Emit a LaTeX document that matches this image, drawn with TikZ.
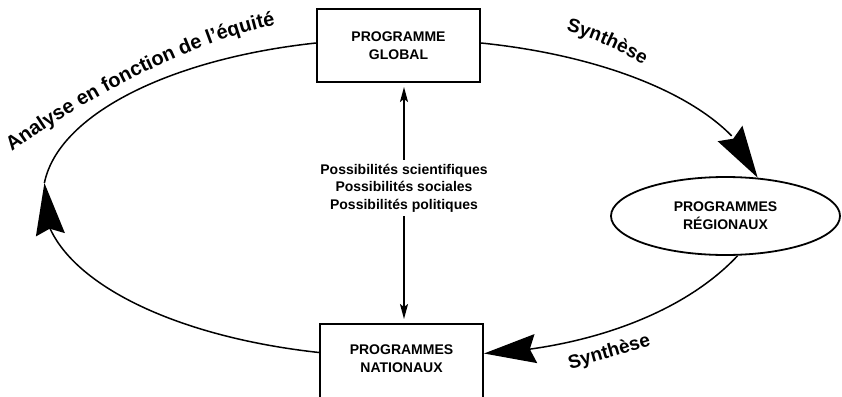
\documentclass[tikz,border=0pt]{standalone}
\usepackage{fontspec}
\setmainfont{Liberation Sans}
\usetikzlibrary{arrows.meta,bending,decorations.text,shapes.geometric}
\newcommand\arclabelfont{\fontsize{19}{19}\selectfont\bfseries}
\newcommand\bigarclabelfont{\fontsize{20}{20}\selectfont\bfseries}
\begin{document}
\begin{tikzpicture}[x=1pt,y=-1pt,
  boxtext/.style={font=\fontsize{14}{18}\selectfont\bfseries, align=center},
  prog/.style={draw, line width=2pt, minimum width=163pt, minimum height=73pt, inner sep=0pt, boxtext},
  region/.style={draw, ellipse, line width=1.8pt, minimum width=229pt, minimum height=78pt, inner sep=0pt, boxtext},
  loopline/.style={line width=1.5pt},
  bigtip/.style={-{Stealth[length=52pt,width=29pt,inset=6pt]}},
  smalltip/.style={line width=1.6pt, -{Stealth[length=15pt,width=8pt,inset=3pt]}, shorten >=4pt},
  posstext/.style={font=\fontsize{14}{17.5}\selectfont\bfseries, align=center, inner xsep=2pt, inner ysep=4pt},
  arclabel/.style={decorate, decoration={text along path, text align=left, text={|\arclabelfont|#1}}},
  bigarclabel/.style={decorate, decoration={text along path, text align=left, text={|\bigarclabelfont|#1}}}
]
\useasboundingbox (0,0) rectangle (842,396);

\node[prog] (glob) at (398.5,45.5) {PROGRAMME\\GLOBAL};
\node[prog, minimum height=80pt, text depth=10pt] (nat) at (401.5,364) {PROGRAMMES\\NATIONAUX};
\node[region] (reg) at (725.5,216) {PROGRAMMES\\RÉGIONAUX};
\node[posstext] (poss) at (404,188) {Possibilités scientifiques\\Possibilités sociales\\Possibilités politiques};

\coordinate (lt) at (44.4,183);

% big loop
\draw[loopline,bigtip] ([yshift=11.5pt]nat.west) .. controls (146.7,333.6) and (28.5,261.8) .. (lt);
\draw[loopline] (lt) .. controls (58,115.3) and (168,59) .. ([yshift=2.5pt]glob.west);
\draw[loopline,bigtip] ([yshift=2.5pt]glob.east) .. controls (628.5,58.1) and (738.9,113.2) .. (reg.50);
\draw[loopline,bigtip] (reg.-73) .. controls (685,312) and (590,348) .. ([yshift=10.5pt]nat.east);

% vertical arrows
\draw[smalltip] (poss.north) -- (poss.north |- glob.south);
\draw[smalltip] (poss.south) -- (poss.south |- nat.north);

% curved labels
\path[bigarclabel={Analyse en fonction de l’équité}] (12,152) .. controls (92,92) and (215,32) .. (292,22);
\path[arclabel={Synthèse}] (566,31) .. controls (596,39) and (625,52) .. (655,72);
\path[arclabel={Synthèse}] (570,369) .. controls (600,361) and (630,352) .. (665,342);
\end{tikzpicture}
\end{document}
